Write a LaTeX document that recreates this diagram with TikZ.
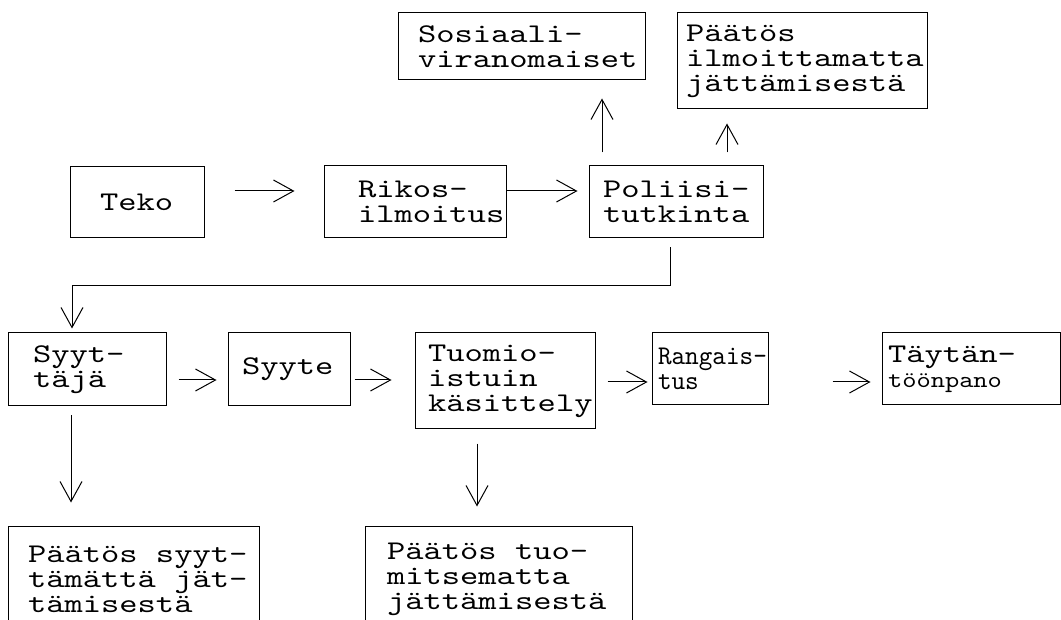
\documentclass[tikz,border=0pt]{standalone}
\usepackage{fontspec}
\usepackage{tikz}
\usetikzlibrary{arrows.meta}
\newfontfamily\boxfont{lmmono10-regular.otf}[FakeStretch=1.29]
\newfontfamily\narrowfont{lmmono10-regular.otf}[FakeStretch=0.96]
\newfontfamily\smallfont{lmmono10-regular.otf}[FakeStretch=1.18]
\newcommand\boxgap{\hspace*{18.3pt}}
\hyphenpenalty=10000
\exhyphenpenalty=10000

\begin{document}
\begin{tikzpicture}
					[x=1pt,y=-1pt,
					box/.style={rectangle,draw=black,line width=1pt,inner sep=0pt,align=left,font=\boxfont\fontsize{27}{25}\selectfont},
					arr/.style={-{Straight Barb[length=20pt,width=22pt]},line width=1pt}]
					\useasboundingbox (0,0) rectangle (1061,620);
					\clip (0,0) rectangle (1061,620);
					\node[box,minimum width=134pt,minimum height=71pt,text width=74pt] (teko) at (137,202.5) {Teko};
					\node[box,minimum width=182pt,minimum height=72pt,text width=114pt] (rikos) at (415,202) {Rikos-\\ilmoitus};
					\node[box,minimum width=174pt,minimum height=72pt,text width=146pt] (poliisi) at (676,202) {Poliisi-\\tutkinta};
					\node[box,minimum width=247pt,minimum height=67pt,text width=207pt] (sosiaali) at (521.5,46.5) {Sosiaali-\\viranomaiset};
					\node[box,minimum width=250pt,minimum height=96pt,text width=232pt] (ilmoitt) at (802,61) {Päätös\\ilmoittamatta\\jättämisestä};
					\node[box,minimum width=158pt,minimum height=73pt,text width=108pt] (syyttaja) at (87,369.5) {Syyt-\\täjä};
					\node[box,minimum width=122pt,minimum height=73pt,text width=94pt] (syyte) at (289,369.5) {Syyte};
					\node[box,minimum width=180pt,minimum height=96pt,text width=154pt] (tuomio) at (505,381) {Tuomio-\\istuin\\käsittely};
					\node[box,minimum width=116pt,minimum height=72pt,text width=104pt,font=\narrowfont\fontsize{27}{25}\selectfont] (rangaistus) at (710,369) {Rangais-\\tus};
					\node[box,minimum width=178pt,minimum height=72pt,text width=166pt] (taytanto) at (971,369) {Täytän-\\{\smallfont\fontsize{23}{25}\selectfont töönpano}};
					\node[box,minimum width=251pt,minimum height=106pt,text width=211pt] (syytpaatos) at (133.5,579) {\mbox{Päätös\boxgap syyt-}\\\mbox{tämättä\boxgap jät-}\\tämisestä};
					\node[box,minimum width=267pt,minimum height=106pt,text width=223pt] (tuompaatos) at (498.5,579) {\mbox{Päätös\boxgap tuo-}\\mitsematta\\jättämisestä};
					\draw[arr,shorten <=30pt,shorten >=29pt] ([yshift=11.5pt]teko.east) -- ([yshift=11pt]rikos.west);
					\draw[arr,shorten >=11pt] ([yshift=11pt]rikos.east) -- ([yshift=11pt]poliisi.west);
					\draw[arr,shorten <=13pt,shorten >=18pt] ([xshift=-74pt]poliisi.north) -- ([xshift=80.5pt]sosiaali.south);
					\draw[arr,shorten <=13pt,shorten >=14pt] ([xshift=51pt]poliisi.north) -- ([xshift=-75pt]ilmoitt.south);
					\draw[arr,shorten <=9pt,shorten >=4pt] ([xshift=-6pt]poliisi.south) -- ++(0,47) -| ([xshift=-15pt]syyttaja.north);
					\draw[arr,shorten <=12pt,shorten >=11pt] ([yshift=-10.5pt]syyttaja.east) -- ([yshift=-10.5pt]syyte.west);
					\draw[arr,shorten <=4pt,shorten >=23pt] ([yshift=-10.5pt]syyte.east) -- ([yshift=1pt]tuomio.west);
					\draw[arr,shorten <=12pt,shorten >=4pt] ([yshift=-1pt]tuomio.east) -- ([yshift=-13pt]rangaistus.west);
					\draw[arr,shorten <=64pt,shorten >=11pt] ([yshift=-13pt]rangaistus.east) -- ([yshift=-13pt]taytanto.west);
					\draw[arr,shorten <=9pt,shorten >=23pt] ([xshift=-16pt]syyttaja.south) -- ([xshift=-62.5pt]syytpaatos.north);
					\draw[arr,shorten <=14pt,shorten >=19pt] ([xshift=-28pt]tuomio.south) -- ([xshift=-21.5pt]tuompaatos.north);
				\end{tikzpicture}
\end{document}
